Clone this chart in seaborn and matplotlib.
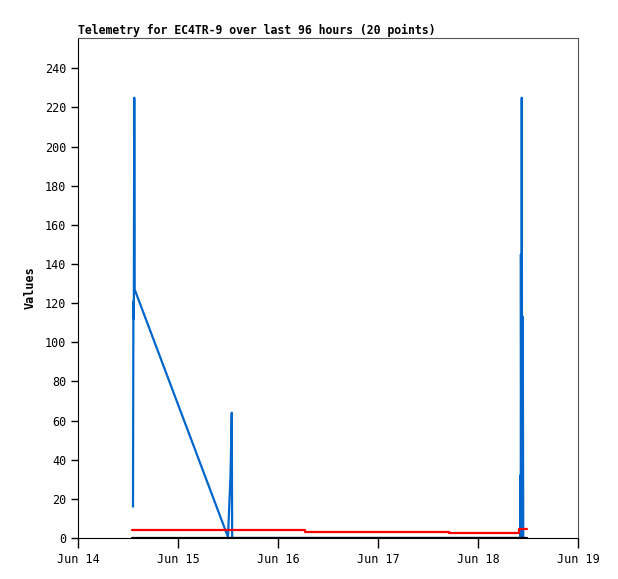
import pandas as pd
import matplotlib
matplotlib.use("Agg")
import matplotlib.pyplot as plt
import matplotlib.dates as mdates
import seaborn as sns

# hours since Jun 14 00:00 and readings
start = pd.Timestamp("2024-06-14")
blue_hours = [13.2, 13.3, 13.4, 13.5, 13.6, 36.0, 36.6, 36.9, 37.0, 60.0, 84.0,
              106.1, 106.14, 106.26, 106.3, 106.4, 106.5, 106.6, 106.74, 106.86]
blue_vals = [16, 121, 112, 225, 127, 0.5, 32, 64, 0, 0, 0,
             0, 32, 0, 145, 0, 225, 0, 113, 0]
red_hours = [13.0, 54.5, 54.5, 89.0, 89.0, 105.9, 105.9, 107.8]
red_vals = [3.9, 3.9, 3.2, 3.2, 2.7, 2.7, 4.7, 4.7]
black_hours = [13.0, 107.8]
black_vals = [0, 0]
y_ticks = list(range(0, 241, 20))

def to_time(hours):
    return [start + pd.Timedelta(hours=h) for h in hours]

sns.set_style("ticks")
plt.rcParams["font.family"] = ["DejaVu Sans Mono"]
plt.rcParams["text.color"] = "black"
plt.rcParams["xtick.color"] = "black"
plt.rcParams["ytick.color"] = "black"
plt.rcParams["axes.labelcolor"] = "black"

fig = plt.figure(figsize=(6.18, 5.79), dpi=100)
ax = fig.add_axes([78 / 618, 1 - 538 / 579, 500 / 618, 500 / 579])

sns.lineplot(x=to_time(blue_hours), y=blue_vals, ax=ax, color="#0066cc",
             linewidth=1.6, estimator=None, sort=False)
sns.lineplot(x=to_time(red_hours), y=red_vals, ax=ax, color="#ff0000",
             linewidth=1.6, estimator=None, sort=False)
sns.lineplot(x=to_time(black_hours), y=black_vals, ax=ax, color="black",
             linewidth=1.6, estimator=None, sort=False)

ax.set_xlim(start, start + pd.Timedelta(days=5))
ax.set_ylim(0, 255.5)
ax.set_yticks(y_ticks)
ax.xaxis.set_major_locator(mdates.DayLocator())
ax.xaxis.set_major_formatter(mdates.DateFormatter("%b %d"))
ax.tick_params(axis="x", length=7, width=1, labelsize=8.5, pad=4)
ax.tick_params(axis="y", length=5, width=1, labelsize=8.5)

for side in ["top", "right"]:
    ax.spines[side].set_color("#555555")
for side in ["left", "bottom"]:
    ax.spines[side].set_color("black")
for sp in ax.spines.values():
    sp.set_linewidth(0.8)

ax.set_ylabel("Values", fontsize=8.5, fontweight="bold", labelpad=6)
ax.set_xlabel("")
ax.set_title("Telemetry for EC4TR-9 over last 96 hours (20 points)",
             loc="left", fontsize=8.3, fontweight="bold", pad=3)

fig.savefig("out.png", dpi=100)
